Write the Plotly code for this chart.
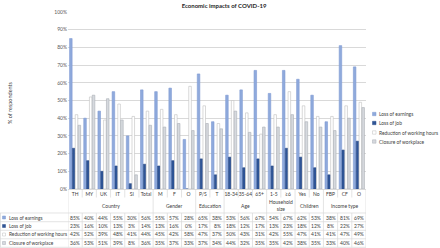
import plotly.graph_objects as go

categories = ["TH", "MY", "UK", "IT", "SI", "Total", "M", "F", "O", "P/S", "T",
              "18-34", "35-64", "65+", "1-5", "≥6", "Yes", "No", "FBP", "CF", "O"]
groups = [("Country", 0, 5), ("Gender", 6, 8), ("Education", 9, 10), ("Age", 11, 13),
          ("Household<br>size", 14, 15), ("Children", 16, 17), ("Income type", 18, 20)]
series_names = ["Loss of earnings", "Loss of job", "Reduction of working hours", "Closure of workplace"]
loss_of_earnings = [85, 40, 44, 55, 30, 56, 55, 57, 28, 65, 38, 53, 56, 67, 54, 67, 62, 53, 38, 81, 69]
loss_of_job = [23, 16, 10, 13, 3, 14, 13, 16, 0, 17, 8, 18, 12, 17, 13, 23, 18, 12, 8, 22, 27]
reduction_of_hours = [42, 52, 39, 48, 41, 44, 45, 42, 58, 47, 37, 50, 43, 31, 42, 55, 47, 41, 41, 47, 49]
closure_of_workplace = [36, 53, 51, 39, 8, 36, 35, 37, 33, 37, 34, 44, 32, 35, 35, 42, 38, 35, 33, 40, 46]
series_values = [loss_of_earnings, loss_of_job, reduction_of_hours, closure_of_workplace]

fills = ["#8FAADC", "#2F5597", "#FFFFFF", "#D6D9DE"]
lines = ["#7F9BD3", "#2A4C88", "#BFBFBF", "#A9AEB6"]
FONT = "Lato"
TXT = "#404040"
GRID = "#D9D9D9"

W, H = 440, 248
L, R, T, B = 68, 74, 12, 59
PH = H - T - B
PW = W - L - R

def py(ypx):
    return (T + PH - ypx) / PH

def px(xpx):
    return (xpx - L) / PW

x_idx = list(range(len(categories)))
fig = go.Figure()
for name, vals, f, lc in zip(series_names, series_values, fills, lines):
    fig.add_trace(go.Bar(x=x_idx, y=[v / 100 for v in vals], name=name,
                         marker=dict(color=f, line=dict(color=lc, width=0.6)),
                         showlegend=False, hoverinfo="skip"))

annotations = []
shapes = []

row_y = [217.5, 226, 234.5, 243]
row_lines = [213, 221.7, 230.3, 238.8, 247.3]

for r, (name, vals) in enumerate(zip(series_names, series_values)):
    for i, v in enumerate(vals):
        annotations.append(dict(x=i, xref="x", y=py(row_y[r]), yref="paper", text=f"{v}%",
                                showarrow=False, font=dict(size=5, color=TXT, family=FONT),
                                xanchor="center", yanchor="middle"))
    annotations.append(dict(x=px(7), xref="paper", y=py(row_y[r]), yref="paper", text=name,
                            showarrow=False, font=dict(size=4.8, color=TXT, family=FONT),
                            xanchor="left", yanchor="middle"))
    shapes.append(dict(type="rect", xref="paper", yref="paper",
                       x0=px(2.5), x1=px(5.5), y0=py(row_y[r] - 1.5), y1=py(row_y[r] + 1.5),
                       fillcolor=fills[r], line=dict(color=lines[r], width=0.5)))

for gname, a, b in groups:
    annotations.append(dict(x=(a + b) / 2, xref="x", y=py(205.5), yref="paper", text=gname,
                            showarrow=False, font=dict(size=5, color=TXT, family=FONT),
                            xanchor="center", yanchor="middle"))

for y in row_lines:
    shapes.append(dict(type="line", xref="paper", yref="paper", x0=px(0), x1=1,
                       y0=py(y), y1=py(y), line=dict(color=GRID, width=0.7)))
group_edges = {a - 0.5 for _, a, _ in groups} | {groups[-1][2] + 0.5}
for i in range(len(categories) + 1):
    xe = i - 0.5
    if xe in group_edges:
        shapes.append(dict(type="line", xref="x", yref="paper", x0=xe, x1=xe,
                           y0=py(T + PH), y1=py(row_lines[-1]), line=dict(color=GRID, width=0.7)))
    else:
        shapes.append(dict(type="line", xref="x", yref="paper", x0=xe, x1=xe,
                           y0=py(T + PH), y1=py(197.5), line=dict(color=GRID, width=0.7)))
        shapes.append(dict(type="line", xref="x", yref="paper", x0=xe, x1=xe,
                           y0=py(row_lines[0]), y1=py(row_lines[-1]), line=dict(color=GRID, width=0.7)))
shapes.append(dict(type="line", xref="paper", yref="paper", x0=px(0.5), x1=px(0.5),
                   y0=py(row_lines[0]), y1=py(row_lines[-1]), line=dict(color=GRID, width=0.7)))

leg_y = [114, 123, 132.5, 141.5]
for k, name in enumerate(series_names):
    shapes.append(dict(type="rect", xref="paper", yref="paper",
                       x0=px(372.5), x1=px(376), y0=py(leg_y[k] - 1.7), y1=py(leg_y[k] + 1.7),
                       fillcolor=fills[k], line=dict(color=lines[k], width=0.5)))
    annotations.append(dict(x=px(377.3), xref="paper", y=py(leg_y[k]), yref="paper", text=name,
                            showarrow=False, font=dict(size=4.9, color=TXT, family=FONT),
                            xanchor="left", yanchor="middle"))

annotations.append(dict(x=px(10), xref="paper", y=py(103), yref="paper", text="% of respondents",
                        textangle=-90, showarrow=False, font=dict(size=5.5, color=TXT, family=FONT),
                        xanchor="center", yanchor="middle"))

fig.update_layout(
    width=W, height=H,
    margin=dict(l=L, r=R, t=T, b=B, autoexpand=False),
    paper_bgcolor="white", plot_bgcolor="white",
    barmode="group", bargap=0.2, bargroupgap=0.1,
    title=dict(text="<b>Economic impacts of COVID-19</b>", x=(224 / W), xanchor="center",
               y=1 - 5.5 / H, yanchor="middle", font=dict(size=6, color="#262626", family=FONT),
               automargin=False),
    font=dict(family=FONT, size=5, color=TXT),
    xaxis=dict(range=[-0.5, len(categories) - 0.5], tickmode="array", tickvals=x_idx,
               ticktext=categories, tickangle=0, automargin=False, showgrid=False, zeroline=False,
               showline=True, linecolor=GRID, linewidth=0.8, ticks="",
               tickfont=dict(size=5, color=TXT, family=FONT)),
    yaxis=dict(range=[0, 1.0], tickformat=".0%", dtick=0.1, showgrid=True, gridcolor=GRID,
               gridwidth=0.6, zeroline=False, showline=False, ticks="", automargin=False,
               tickfont=dict(size=5, color="#595959", family=FONT)),
    annotations=annotations, shapes=shapes,
)

fig.write_html("out.html", config={"displayModeBar": False},
               post_script="document.body.style.margin='0';document.body.style.overflow='hidden';")
